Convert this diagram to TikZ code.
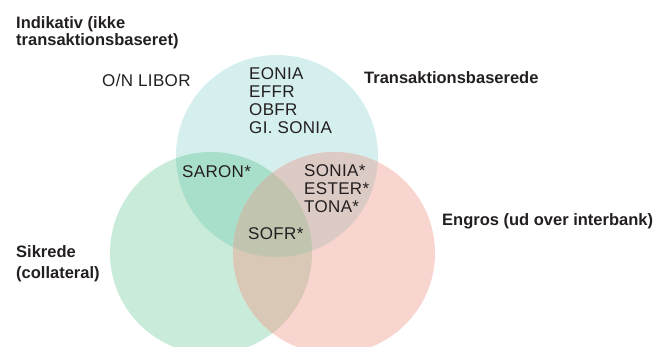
\documentclass[tikz,border=0pt]{standalone}
\usepackage{fontspec}
\setmainfont{Liberation Sans}
\newfontfamily\regf[LetterSpace=2]{Liberation Sans}
\definecolor{cTop}{HTML}{D4EFEE}
\definecolor{cGreen}{HTML}{C9EBD9}
\definecolor{cPink}{HTML}{F9D5CF}
\definecolor{cTG}{HTML}{A8DFCA}
\definecolor{cTP}{HTML}{DCCAC4}
\definecolor{cGP}{HTML}{D8C8B5}
\definecolor{cAll}{HTML}{C1C4AE}
\definecolor{ink}{HTML}{231F20}
\begin{document}
\begin{tikzpicture}[x=1pt,y=-1pt,
  lbl/.style={inner sep=0pt,anchor=base west,text=ink,font=\fontsize{16.5}{17}\selectfont\bfseries,align=left},
  item/.style={inner sep=0pt,anchor=base west,text=ink,font=\regf\fontsize{17}{18}\selectfont,align=left}]
\useasboundingbox (0,0) rectangle (671,347);
\coordinate (T) at (277,156);
\coordinate (G) at (211,253);
\coordinate (P) at (334,253);
\def\R{101pt}
\fill[cTop] (T) circle (\R);
\fill[cGreen] (G) circle (\R);
\fill[cPink] (P) circle (\R);
\begin{scope}
  \clip (T) circle (\R);
  \fill[cTG] (G) circle (\R);
  \fill[cTP] (P) circle (\R);
\end{scope}
\begin{scope}
  \clip (G) circle (\R);
  \fill[cGP] (P) circle (\R);
  \clip (P) circle (\R);
  \fill[cAll] (T) circle (\R);
\end{scope}
% labels
\node[lbl] (ind) at (16,46) {Indikativ (ikke\\transaktionsbaseret)};
\node[lbl] (tra) at (364,84) {Transaktionsbaserede};
\node[lbl] (eng) at (442,225.5) {Engros (ud over interbank)};
\node[lbl,font=\fontsize{16.5}{21}\selectfont\bfseries] (sik) at (16,278) {Sikrede\\(collateral)};
% items
\node[item] (libor) at (102,87) {O/N LIBOR};
\node[item] (eonia) at (249,134) {EONIA\\EFFR\\OBFR\\GI. SONIA};
\node[item] (saron) at (182,178) {SARON*};
\node[item] (sonia) at (304,213) {SONIA*\\ESTER*\\TONA*};
\node[item] (sofr) at (248,240) {SOFR*};
\end{tikzpicture}
\end{document}
